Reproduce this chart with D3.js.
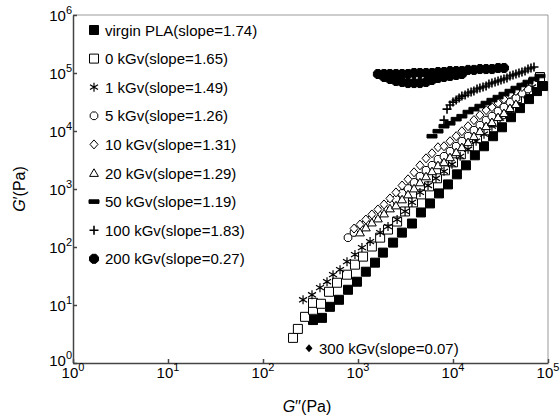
<!DOCTYPE html>
<html>
<head>
<meta charset="utf-8">
<script src="https://cdn.jsdelivr.net/npm/d3@7"></script>
<style>
body { margin: 0; background: #fff; }
text { font-family: Arial, "Liberation Sans", sans-serif; fill: #000; }
</style>
</head>
<body>
<script>
// G'' (x) and G' (y) in Pa
var virginG2 = [336,418,507,631,785,976,1210,1510,1830,2340,2900,3700,4600,5730,7120,8860,11000,13700,17000,21200,26400,32800,40800,50700,63100,76600,88600];
var virginG1 = [5.5,6.0,9.3,12.3,18.3,25.2,37.5,53.7,80,119,177,254,394,564,839,1200,1790,2560,3810,5460,8130,11600,17300,24800,35500,48800,59600];

var k0G2 = [207,233,277,336,336,408,495,601,766,929,1130,1400,1710,2070,2580,3130,3790,4610,5590,6790,8240,10000,12100,14700,17900,21700,26400,32000,38800,47200,57300,69500,82400];
var k0G1 = [2.71,3.87,6.25,8.26,10.9,10.5,16.9,24.2,33.3,49.6,68.2,102,145,200,275,410,587,807,1110,1530,2100,2880,3970,5460,7500,10300,14200,19500,26900,36900,50800,67100,85300];

var k1G2 = [264,328,398,472,546,647,766,929,1100,1340,1710,2070,2580,3130,3700,4490,5460,6620,8040,9760,11900,14400,17500,21200,25700,31300,37900,46000,55900,67900];
var k1G1 = [12.3,15.0,19.9,25.2,33.3,40.6,55.9,73.9,97.7,124,177,225,298,410,587,873,1150,1530,2020,2670,3660,4840,6660,8810,12100,16700,22900,31500,43300,57300];

var k5G2 = [785,908,1050,1210,1400,1620,1880,2170,2510,2910,3360,3890,4490,5200,6010,6950,8040,9300,10800,12400,14400,16600,19200,22300,25700,29800,34400,39800,46000,53200,61600];
var k5G1 = [145,178,208,254,310,364,444,542,661,839,1020,1300,1650,2100,2560,3250,3660,4470,5460,6660,8130,10300,12600,15400,18000,22000,25800,31500,36900,45100,52900];

var k10G2 = [908,1050,1210,1400,1620,1880,2170,2510,2910,3360,3890,4490,5200,6010,6950,8040,9300,10800,12400,14400,16600,19200,22300,25700,29800,34400,39800,46000,53200];
var k10G1 = [208,244,298,364,444,542,688,873,1150,1470,1940,2560,3380,4130,5250,5460,6660,8130,9920,12100,15400,18800,22900,25800,30300,35500,43300,48800,57300];

var k20G2 = [1050,1210,1400,1620,1880,2170,2510,2910,3360,3890,4490,5200,6010,6950,8040,9300,10800,12400,14400,16600,19200,22300,25700,29800,34400,39800,46000];
var k20G1 = [178,217,264,310,378,462,520,661,806,1020,1300,1650,2020,2560,2890,3520,4300,5250,6400,8130,9920,12100,14200,17300,20300,24800,29100];

var k50G2 = [6010,6950,8040,9300,10800,12400,14400,16600,19200,22300,25700,29800,34400,39800,46000,53200,61600,71200,82400];
var k50G1 = [8130,9920,12100,13600,16000,18000,21200,23800,26900,30300,34100,38400,43300,48800,55000,62000,69900,78800,88800];

var k100G2 = [8040,8650,9300,10000,10800,11600,12400,13400,14400,15500,16600,17900,19200,20700,22300,23900,25700,27700,29800,32000,34400,37000,39800,42800,46000,49500,53200,57300,61600,66200,71200];
var k100G1 = [15400,23800,28000,31500,34100,36900,40000,41600,45100,46900,48800,52900,55000,57300,59600,64500,67100,69900,72700,75700,78800,82000,88800,92400,96100,100000,104000,108000,117000,122000,127000];

var k200G2 = [1620,1880,2170,2510,2910,3360,3890,4490,5200,6010,6950,8040,9300,10800,12400,14400,16600,19200,22300,25700,29800,34400,
              1880,2170,2510,2910,3360,3890,4490,5200,6010,6950,8040,9300,10800,12400];
var k200G1 = [96100,96100,96100,96100,96100,96100,100000,100000,100000,100000,104000,104000,108000,108000,108000,113000,113000,117000,117000,117000,122000,122000,
              85300,78800,72700,69900,67100,67100,67100,69900,75700,82000,85300,88800,92400,96100];

var legendLabels = ["virgin PLA(slope=1.74)", "0 kGv(slope=1.65)", "1 kGv(slope=1.49)", "5 kGv(slope=1.26)",
                    "10 kGv(slope=1.31)", "20 kGv(slope=1.29)", "50 kGv(slope=1.19)", "100 kGv(slope=1.83)", "200 kGv(slope=0.27)"];
var noteLabel = "300 kGv(slope=0.07)";
var noteG2 = 305, noteG1 = 1.8;

var xTicks = [1, 10, 100, 1000, 10000, 100000];
var yTicks = [1, 10, 100, 1000, 10000, 100000, 1000000];

var series = [
  {x: virginG2, y: virginG1, shape: "square", fill: "#000"},
  {x: k0G2, y: k0G1, shape: "square", fill: "#fff"},
  {x: k1G2, y: k1G1, shape: "star", fill: "none"},
  {x: k5G2, y: k5G1, shape: "circle", fill: "#fff"},
  {x: k10G2, y: k10G1, shape: "diamond", fill: "#fff"},
  {x: k20G2, y: k20G1, shape: "triangle", fill: "#fff"},
  {x: k50G2, y: k50G1, shape: "dash", fill: "#000"},
  {x: k100G2, y: k100G1, shape: "plus", fill: "none"},
  {x: k200G2, y: k200G1, shape: "dot", fill: "#000"}
];

var paths = {
  square: "M-4.5,-4.5h9v9h-9z",
  star: "M0,-4.5V4.5M-4,-2.4L4,2.4M-4,2.4L4,-2.4",
  circle: "M-1.6,-3.8H1.6L3.8,-1.6V1.6L1.6,3.8H-1.6L-3.8,1.6V-1.6Z",
  diamond: "M0,-4.5L4,0L0,4.5L-4,0Z",
  triangle: "M0,-4.2L4.4,3.4H-4.4Z",
  dash: "M-5,-1.8h10v3.6h-10z",
  plus: "M-4.5,0H4.5M0,-4.5V4.5",
  dot: "M-1.9,-4.5H1.9L4.5,-1.9V1.9L1.9,4.5H-1.9L-4.5,1.9V-1.9Z"
};

var width = 560, height = 417;
var svg = d3.select("body").append("svg")
    .attr("width", width)
    .attr("height", height);

var x = d3.scaleLog().domain([1, 1e5]).range([73, 548]);
var y = d3.scaleLog().domain([1, 1e6]).range([363, 15]);

// frame (top / right) in light grey
svg.append("path")
    .attr("d", "M" + x.range()[0] + "," + y.range()[1] + "H" + x.range()[1] + "V" + y.range()[0])
    .attr("fill", "none")
    .attr("stroke", "#999")
    .attr("stroke-width", 1);

var xAxis = svg.append("g")
    .attr("transform", "translate(0," + y.range()[0] + ")")
    .call(d3.axisBottom(x).tickValues(xTicks).tickSize(-4).tickSizeOuter(0).tickFormat(""));
var yAxis = svg.append("g")
    .attr("transform", "translate(" + x.range()[0] + ",0)")
    .call(d3.axisLeft(y).tickValues(yTicks).tickSize(-4).tickSizeOuter(0).tickFormat(""));
svg.selectAll(".domain, .tick line").attr("stroke", "#444").attr("stroke-width", 1.5);

// tick labels as 10 with a superscript
xTicks.forEach(function(v) {
  var t = svg.append("text")
      .attr("x", x(v))
      .attr("y", 378)
      .attr("text-anchor", "middle")
      .style("font-size", "15px");
  t.append("tspan").text("10");
  t.append("tspan").attr("dy", -7).style("font-size", "11px").text(Math.round(Math.log10(v)));
});
yTicks.forEach(function(v) {
  var t = svg.append("text")
      .attr("x", 72)
      .attr("y", y(v) + (v == 1 ? 3 : 6))
      .attr("text-anchor", "end")
      .style("font-size", "15px");
  t.append("tspan").text("10");
  t.append("tspan").attr("dy", -7).style("font-size", "11px").text(Math.round(Math.log10(v)));
});

// axis titles
var xt = svg.append("text")
    .attr("x", 307)
    .attr("y", 412)
    .attr("text-anchor", "middle")
    .style("font-size", "16px");
xt.append("tspan").style("font-style", "italic").text("G");
xt.append("tspan").text("′′(Pa)");

var yt = svg.append("text")
    .attr("transform", "translate(25,189) rotate(-90)")
    .attr("text-anchor", "middle")
    .style("font-size", "16px");
yt.append("tspan").style("font-style", "italic").text("G");
yt.append("tspan").text("′(Pa)");

function drawMarks(g, s) {
  g.attr("d", paths[s.shape])
    .attr("fill", s.fill)
    .attr("stroke", "#000")
    .attr("stroke-width", s.shape == "plus" ? 1.6 : (s.shape == "star" ? 1.2 : 1))
    .attr("stroke-linejoin", "miter");
}

// data points
series.forEach(function(s) {
  var pts = s.x.map(function(v, i) { return [v, s.y[i]]; });
  svg.append("g").selectAll("path")
    .data(pts)
    .enter().append("path")
      .attr("transform", function(d) { return "translate(" + x(d[0]) + "," + y(d[1]) + ")"; })
      .call(drawMarks, s);
});

// legend
var size = 28.6;
series.forEach(function(s, i) {
  var cy = 30 + i * size;
  svg.append("path")
    .attr("transform", "translate(94," + cy + ")")
    .call(drawMarks, s);
  svg.append("text")
    .attr("x", 105)
    .attr("y", cy + 5.5)
    .style("font-size", "15px")
    .text(legendLabels[i]);
});

// 300 kGv note inside the plot
svg.append("path")
    .attr("transform", "translate(" + x(noteG2) + "," + y(noteG1) + ")")
    .attr("d", "M0,-4L3.5,0L0,4L-3.5,0Z")
    .attr("fill", "#000");
svg.append("text")
    .attr("x", x(noteG2) + 10)
    .attr("y", y(noteG1) + 5.5)
    .style("font-size", "15px")
    .text(noteLabel);
</script>
</body>
</html>
